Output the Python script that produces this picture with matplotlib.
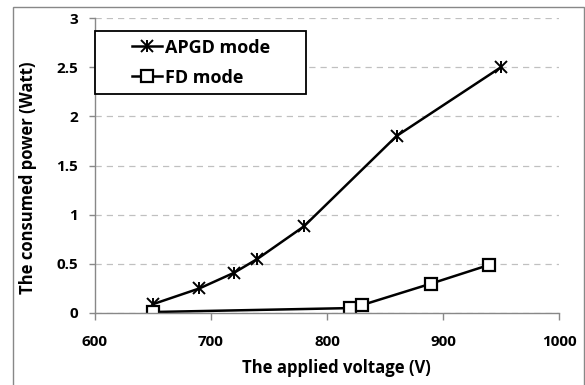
import matplotlib
matplotlib.use("Agg")
import matplotlib.pyplot as plt
from matplotlib.lines import Line2D
from matplotlib.patches import Rectangle

plt.rcParams["font.family"] = ["Open Sans", "DejaVu Sans"]
plt.rcParams["font.weight"] = "bold"

# データ
apgd_voltage = [650, 690, 720, 740, 780, 860, 950]
apgd_power = [0.09, 0.25, 0.41, 0.55, 0.88, 1.80, 2.50]
fd_voltage = [650, 820, 830, 890, 940]
fd_power = [0.01, 0.05, 0.08, 0.30, 0.49]

x_ticks = [600, 700, 800, 900, 1000]
y_ticks = [0, 0.5, 1, 1.5, 2, 2.5, 3]
y_tick_labels = ["0", "0.5", "1", "1.5", "2", "2.5", "3"]

fig = plt.figure(figsize=(5.85, 3.85), dpi=100)
ax = fig.add_axes([95 / 585, 1 - 313 / 385, 464 / 585, 295 / 385])

# 外枠
fig.patches.append(Rectangle((13 / 585, -0.01), 571 / 585, 1.01 - 7 / 385,
                             transform=fig.transFigure, fill=False,
                             edgecolor="#888888", linewidth=1.0))

star_kw = dict(color="black", linestyle="none", markersize=8,
               markeredgewidth=1.4)
ax.plot(apgd_voltage, apgd_power, color="black", linewidth=1.8)
ax.plot(apgd_voltage, apgd_power, marker="x", **star_kw)
ax.plot(apgd_voltage, apgd_power, marker="|", **star_kw)
ax.plot(fd_voltage, fd_power, color="black", linewidth=1.8,
        marker="s", markersize=8.5, markerfacecolor="white",
        markeredgewidth=1.6)

ax.set_xlim(600, 1000)
ax.set_ylim(0, 3)
ax.set_xticks(x_ticks)
ax.set_yticks(y_ticks)
ax.set_yticklabels(y_tick_labels)
ax.tick_params(axis="both", labelsize=11, color="#888888", width=1.0,
               direction="out")
ax.tick_params(axis="x", length=5, pad=11)
ax.tick_params(axis="y", length=4, pad=8)
ax.grid(axis="y", linestyle=(0, (5, 4)), color="#c0c0c0", linewidth=0.9)
ax.set_axisbelow(True)
for side in ["top", "right"]:
    ax.spines[side].set_visible(False)
for side in ["left", "bottom"]:
    ax.spines[side].set_color("#888888")
    ax.spines[side].set_linewidth(1.0)

ax.set_xlabel("The applied voltage (V)", fontsize=12, fontweight="bold")
ax.set_ylabel("The consumed power (Watt)", fontsize=12, fontweight="bold")
ax.xaxis.set_label_coords(0.52, -0.186, transform=ax.transAxes)
ax.yaxis.set_label_coords(-0.144, 0.46, transform=ax.transAxes)
ax.xaxis.label.set_va("center")
ax.yaxis.label.set_va("center")

# 凡例の枠
ax.add_patch(Rectangle((0.0, 0.742), 0.455, 0.214, transform=ax.transAxes,
                       facecolor="white", edgecolor="black", linewidth=1.3,
                       zorder=5, clip_on=False))

h1 = (Line2D([], [], color="black", linewidth=1.8),
      Line2D([], [], marker="x", **star_kw),
      Line2D([], [], marker="|", **star_kw))
h2 = Line2D([], [], color="black", linewidth=1.8, marker="s",
            markersize=8.5, markerfacecolor="white", markeredgewidth=1.6)
leg = ax.legend([h1, h2], ["APGD mode", "FD mode"], loc="upper left",
                bbox_to_anchor=(0.08, 0.93), fontsize=13, frameon=False,
                handlelength=1.65, handletextpad=0.15, borderpad=0,
                labelspacing=0.67, borderaxespad=0)
leg.set_zorder(6)
for t in leg.get_texts():
    t.set_fontweight("bold")

fig.savefig("out.png", dpi=100)
